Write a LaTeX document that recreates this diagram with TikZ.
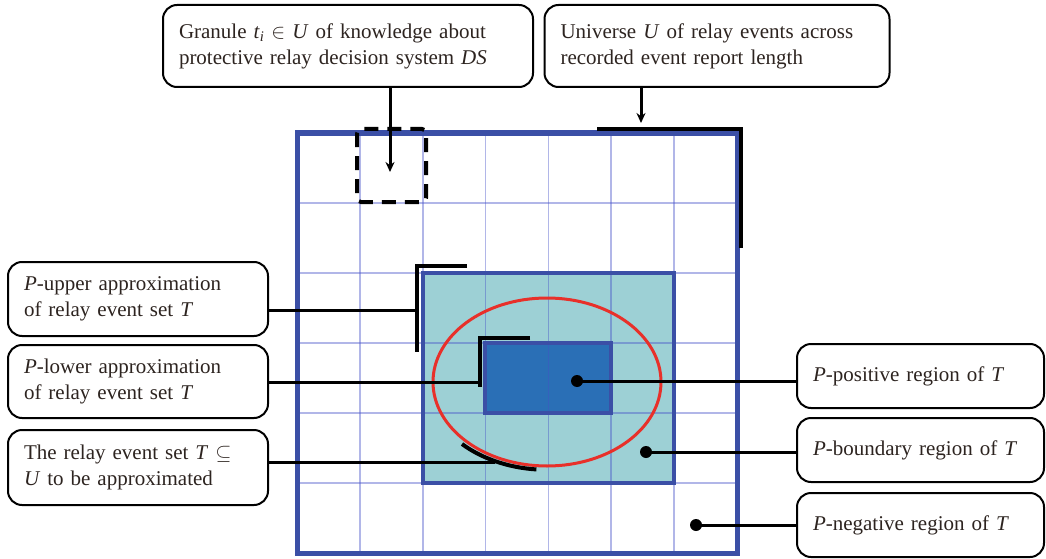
\documentclass[tikz,border=0pt]{standalone}
\usepackage{fontspec}
\setmainfont{Liberation Serif}
\usetikzlibrary{arrows.meta}
\definecolor{txt}{RGB}{45,36,32}
\definecolor{gridc}{RGB}{70,80,200}
\definecolor{frame}{RGB}{59,79,166}
\definecolor{upfill}{RGB}{157,208,213}
\definecolor{lowfill}{RGB}{42,111,182}
\definecolor{ellc}{RGB}{232,48,42}
\begin{document}
\begin{tikzpicture}[x=1pt,y=-1pt,
  lbl/.style={draw=black, line width=2pt, rounded corners=14pt, fill=white,
    align=left, inner xsep=16pt, inner ysep=4pt, text=txt,
    font=\fontsize{21}{26}\selectfont},
  conn/.style={black, line width=3pt},
  brk/.style={black, line width=4pt},
  arr/.style={black, line width=3pt, -{Stealth[length=10pt,width=9pt]}},
  dotc/.style={circle, fill=black, inner sep=0pt, minimum size=12pt}]
\useasboundingbox (0,0) rectangle (1046,559);
% regions
\fill[upfill] (423,273) rectangle (674,483);
\fill[lowfill] (485,343) rectangle (611,413);
% grid
\foreach \k in {1,...,6}
  \draw[gridc, opacity=0.42, line width=1.6pt] ({297+\k*62.857},133) -- ({297+\k*62.857},553);
\foreach \k in {1,...,5}
  \draw[gridc, opacity=0.42, line width=1.6pt] (297,{133+\k*70}) -- (737,{133+\k*70});
% borders
\draw[frame, line width=4.5pt] (423,273) rectangle (674,483);
\draw[frame, line width=3.5pt] (485,343) rectangle (611,413);
\draw[frame, line width=5pt] (297,133) rectangle (737,553);
% ellipse
\draw[ellc, line width=3pt] (547,382) ellipse [x radius=114, y radius=84];
% granule dashed box
\draw[black, line width=4pt, dashed, dash pattern=on 14pt off 9pt, rounded corners=4pt] (357,129) rectangle (426,202);
% brackets
\draw[brk] (597,129) -- (741,129) -- (741,248);
\coordinate (uUp) at (417,310);
\draw[brk] (467,266) -- (417,266) -- (417,352);
\coordinate (uLow) at (480,382);
\draw[brk] (530,338) -- (480,338) -- (480,387);
\draw[brk] (462,444) arc[start angle=135, end angle=95, x radius=120, y radius=88];
\coordinate (uT) at (495,462);
\coordinate (gIn) at (390,172);
\coordinate (uTop) at (641,123);
% dots
\node[dotc] (dPos) at (577,381) {};
\node[dotc] (dBnd) at (646,452) {};
\node[dotc] (dNeg) at (696,525) {};
% label boxes
\node[lbl, text width=338pt, minimum height=82pt] (gran) at (348,46)
  {Granule \textit{t}\textsubscript{\textit{i}} $\in$ \textit{U} of knowledge about\\protective relay decision system \textit{DS}};
\node[lbl, text width=313pt, minimum height=82pt] (univ) at (717,46)
  {Universe \textit{U} of relay events across\\recorded event report length};
\node[lbl, text width=228pt, minimum height=74pt] (upper) at (138,299)
  {\textit{P}-upper approximation\\of relay event set \textit{T}};
\node[lbl, text width=228pt, minimum height=73pt] (lower) at (138,381.5)
  {\textit{P}-lower approximation\\of relay event set \textit{T}};
\node[lbl, text width=228pt, minimum height=75pt] (tset) at (138,467.5)
  {The relay event set \textit{T} $\subseteq$\\\textit{U} to be approximated};
\node[lbl, text width=215pt, minimum height=64pt] (pos) at (920.5,376)
  {\textit{P}-positive region of \textit{T}};
\node[lbl, text width=215pt, minimum height=64pt] (bnd) at (920.5,450)
  {\textit{P}-boundary region of \textit{T}};
\node[lbl, text width=215pt, minimum height=64pt] (neg) at (920.5,525)
  {\textit{P}-negative region of \textit{T}};
% connectors
\draw[arr] (gran.south -| gIn) -- (gIn);
\draw[arr] (univ.south -| uTop) -- (uTop);
\draw[conn] (upper.east |- uUp) -- (uUp);
\draw[conn] (lower.east |- uLow) -- (uLow);
\draw[conn] (tset.east |- uT) -- (uT);
\draw[conn] (dPos.center) -- (pos.west |- dPos);
\draw[conn] (dBnd.center) -- (bnd.west |- dBnd);
\draw[conn] (dNeg.center) -- (neg.west |- dNeg);
\end{tikzpicture}
\end{document}
